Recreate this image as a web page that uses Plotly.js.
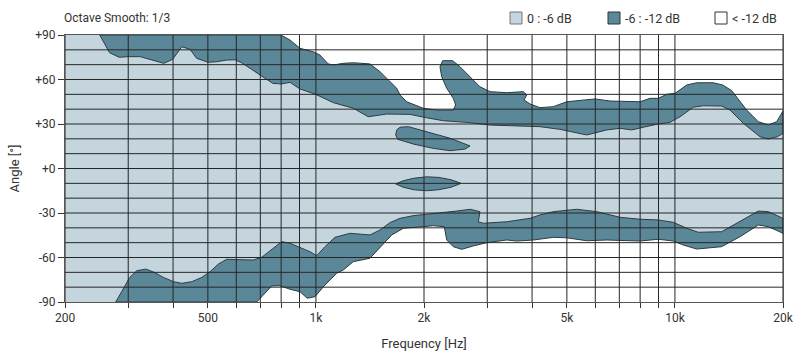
<!DOCTYPE html>
<html><head><meta charset="utf-8">
<script src="https://cdn.plot.ly/plotly-3.0.1.min.js"></script>
<style>html,body{margin:0;padding:0;background:#fff}#chart{width:795px;height:353px}</style>
</head><body><div id="chart"></div>
<script>
// ---- data (frequency in Hz, angle in degrees) ----
const upperInnerHz = [250,266,283,300,324,345,377,399,423,446,465,501,529,564,595,621,699,758,803,847,903,994,1118,1271,1399,1574,1828,2035,2264,2630,3054,3548,4209,4785,5681,6458,7032,7581,8165,8897,9689,10333,11250,11995,13496,14236,15502,17256,18204,19282,20000];
const upperInnerDeg = [90,78.1,75.0,75.4,75.4,73.6,70.9,73.6,82.1,80.4,74.3,71.6,72.0,73.1,73.3,71.3,63.0,57.4,57.0,58.1,53.6,50.2,44.4,40.6,34.9,36.7,36.5,34.2,32.2,31.1,29.3,28.9,28.2,26.4,22.6,26.0,27.1,26.0,27.8,29.8,31.1,34.9,41.3,42.3,42.1,39.4,30.5,21.4,19.9,21.4,23.7];

const upperOuterHz = [799,847,903,983,1026,1082,1118,1192,1271,1414,1508,1591,1679,1715,1790,1991,2169,2413,2451,2413,2314,2240,2216,2255,2404,2519,2687,2864,3054,3400,3782,3866,3800,3949,4209,4585,4995,5990,6596,7994,8523,8988,9486,10007,10786,11500,12788,13583,14391,15846,17070,18204,19208,20000];
const upperOuterDeg = [90,86.6,81.0,78.7,76.5,70.5,69.8,70.9,71.3,70.5,65.3,59.7,54.1,49.6,45.0,40.6,39.4,39.4,42.8,47.3,54.1,61.9,68.6,72.7,72.7,68.6,61.9,55.1,51.8,51.1,51.8,49.6,46.2,43.5,41.0,41.7,45.0,46.9,45.5,45.0,47.3,47.3,50.0,50.7,56.3,57.8,57.8,56.3,52.5,39.4,31.6,29.3,31.6,38.8];

const lowerInnerHz = [277,291,303,317,336,356,376,401,423,451,481,507,535,564,614,669,706,753,803,847,903,963,1005,1060,1130,1244,1414,1508,1608,1715,1867,2035,2216,2466,2687,2864,2834,2926,3400,3949,4209,4585,5327,6056,7032,7994,8988,9898,10786,11617,13496,15178,17070,18204,20000];
const lowerInnerDeg = [-90,-80.8,-73.4,-68.9,-67.8,-70.2,-73.4,-76.3,-77.4,-76.3,-73.4,-69.6,-64.4,-61.2,-61.2,-61.7,-59.9,-54.5,-49.3,-50.4,-53.1,-56.1,-58.8,-52.7,-46.4,-43.7,-44.8,-41.5,-36.5,-33.6,-31.8,-30.9,-30.2,-28.7,-27.5,-29.1,-35.9,-36.9,-35.9,-33.6,-31.3,-29.1,-27.5,-29.1,-32.9,-34.2,-34.7,-36.3,-40.3,-43.0,-42.6,-35.9,-28.7,-29.1,-33.6];

const lowerOuterHz = [684,753,794,847,903,946,994,1060,1142,1192,1271,1414,1525,1626,1752,1991,2122,2278,2314,2413,2547,2744,2991,3400,3627,4034,4585,4995,5681,6458,7994,8988,9898,10553,11500,13496,15178,17070,18204,20000];
const lowerOuterDeg = [-90,-79.2,-79.0,-81.4,-83.1,-87.5,-86.4,-78.5,-70.7,-68.4,-62.8,-60.5,-52.0,-44.8,-40.3,-39.2,-38.6,-39.2,-48.2,-52.7,-54.5,-52.2,-50.0,-48.2,-48.9,-48.2,-46.4,-46.7,-48.7,-48.2,-48.9,-47.7,-48.9,-51.6,-54.3,-52.7,-46.0,-38.1,-39.2,-43.7];

const island1Hz = [1679,1715,1809,1991,2122,2363,2687,2602,2363,2122,1867,1690,1668,1679];
const island1Deg = [26.0,27.8,28.2,25.3,23.7,20.4,15.2,13.1,12.0,13.6,16.5,19.7,22.6,26.0];

const island2Hz = [1668,1750,1870,2035,2200,2380,2536,2380,2200,2035,1870,1750,1668];
const island2Deg = [-10.4,-8.3,-6.6,-5.6,-6.0,-7.6,-10.0,-12.6,-14.3,-15.0,-14.3,-12.6,-10.4];

const xGridHz = [200,300,400,500,600,700,800,900,1000,2000,3000,4000,5000,6000,7000,8000,9000,10000,20000];
const xTickText = ['200','','','500','','','','','1k','2k','','','5k','','','','','10k','20k'];
const yTickVals = [-90,-60,-30,0,30,60,90];
const yTickText = ['-90','-60','-30','+0','+30','+60','+90'];
const yGridDeg = [-80,-70,-60,-50,-40,-30,-20,-10,0,10,20,30,40,50,60,70,80];

const legendLabels = ['0 : -6 dB','-6 : -12 dB','< -12 dB'];
const subtitle = 'Octave Smooth: 1/3';

// ---- styles ----
const LIGHT = '#c4d5de', DARK = '#5a8899', EDGE = '#2e3a40', GRID = '#262626';
const FMIN = 200, FMAX = 20000;

const rev = a => a.slice().reverse();

// light region: between inner boundaries
const lightX = [FMIN].concat(upperInnerHz, rev(lowerInnerHz), [FMIN, FMIN]);
const lightY = [90].concat(upperInnerDeg, rev(lowerInnerDeg), [-90, 90]);

// upper dark band
const upX = [upperInnerHz[0]].concat(upperOuterHz, rev(upperInnerHz));
const upY = [90].concat(upperOuterDeg, rev(upperInnerDeg));

// lower dark band
const loX = lowerInnerHz.concat(rev(lowerOuterHz), [lowerInnerHz[0]]);
const loY = lowerInnerDeg.concat(rev(lowerOuterDeg), [lowerInnerDeg[0]]);

// grid traces
const gvx = [], gvy = [];
xGridHz.forEach(f => { gvx.push(f, f, null); gvy.push(-90, 90, null); });
const ghx = [], ghy = [];
yGridDeg.forEach(a => { ghx.push(FMIN, FMAX, null); ghy.push(a, a, null); });

const base = {type:'scatter', mode:'lines', hoverinfo:'skip', showlegend:false};
const traces = [
  Object.assign({}, base, {x:lightX, y:lightY, fill:'toself', fillcolor:LIGHT, line:{width:0, color:LIGHT}}),
  Object.assign({}, base, {x:upX, y:upY, fill:'toself', fillcolor:DARK, line:{width:1, color:EDGE}}),
  Object.assign({}, base, {x:loX, y:loY, fill:'toself', fillcolor:DARK, line:{width:1, color:EDGE}}),
  Object.assign({}, base, {x:island1Hz, y:island1Deg, fill:'toself', fillcolor:DARK, line:{width:1, color:EDGE}}),
  Object.assign({}, base, {x:island2Hz, y:island2Deg, fill:'toself', fillcolor:DARK, line:{width:1, color:EDGE}}),
  Object.assign({}, base, {x:gvx, y:gvy, line:{width:1, color:GRID}}),
  Object.assign({}, base, {x:ghx, y:ghy, line:{width:1, color:GRID}})
];

const W = 795, H = 353, M = {l:65, r:12, t:35, b:51};
const px = x => (x - M.l) / (W - M.l - M.r);
const py = y => (H - M.b - y) / (H - M.t - M.b);

const FONT = {family:'Roboto, "DejaVu Sans", sans-serif', size:12, color:'#333'};
const TFONT = {family:'Roboto, "DejaVu Sans", sans-serif', size:13, color:'#333'};

const legendBoxes = [
  {x:510, fill:LIGHT, line:'#777'},
  {x:608, fill:DARK, line:'#333'},
  {x:715, fill:'#ffffff', line:'#333'}
];
const shapes = legendBoxes.map(b => ({
  type:'rect', xref:'paper', yref:'paper',
  x0:px(b.x), x1:px(b.x + 12), y0:py(24), y1:py(12),
  fillcolor:b.fill, line:{color:b.line, width:1}
}));

const legendFont = {family:'Roboto, "DejaVu Sans", sans-serif', size:12.5, color:'#333'};
const annotations = legendLabels.map((t, i) => ({
  text:t, xref:'paper', yref:'paper', x:px(legendBoxes[i].x + 15), y:py(18),
  xanchor:'left', yanchor:'middle', showarrow:false, font:legendFont
}));
annotations.push({text:subtitle, xref:'paper', yref:'paper', x:px(62), y:py(18),
  xanchor:'left', yanchor:'middle', showarrow:false, font:FONT});

const layout = {
  width:W, height:H, margin:M,
  paper_bgcolor:'#ffffff', plot_bgcolor:'#ffffff',
  font:FONT, showlegend:false,
  xaxis:{type:'log', range:[Math.log10(FMIN), Math.log10(FMAX)],
    tickmode:'array', tickvals:xGridHz, ticktext:xTickText,
    ticks:'outside', ticklen:5, tickcolor:'#333', showgrid:false, zeroline:false,
    showline:true, mirror:true, linecolor:'#555', linewidth:1,
    title:{text:'Frequency [Hz]', font:TFONT, standoff:14}},
  yaxis:{range:[-90,90], tickmode:'array', tickvals:yTickVals, ticktext:yTickText,
    ticks:'outside', ticklen:6, tickcolor:'#333', showgrid:false, zeroline:false,
    showline:true, mirror:true, linecolor:'#555', linewidth:1,
    title:{text:'Angle [°]', font:TFONT, standoff:12}},
  shapes:shapes, annotations:annotations
};

Plotly.newPlot('chart', traces, layout, {staticPlot:true, displayModeBar:false});
</script></body></html>
